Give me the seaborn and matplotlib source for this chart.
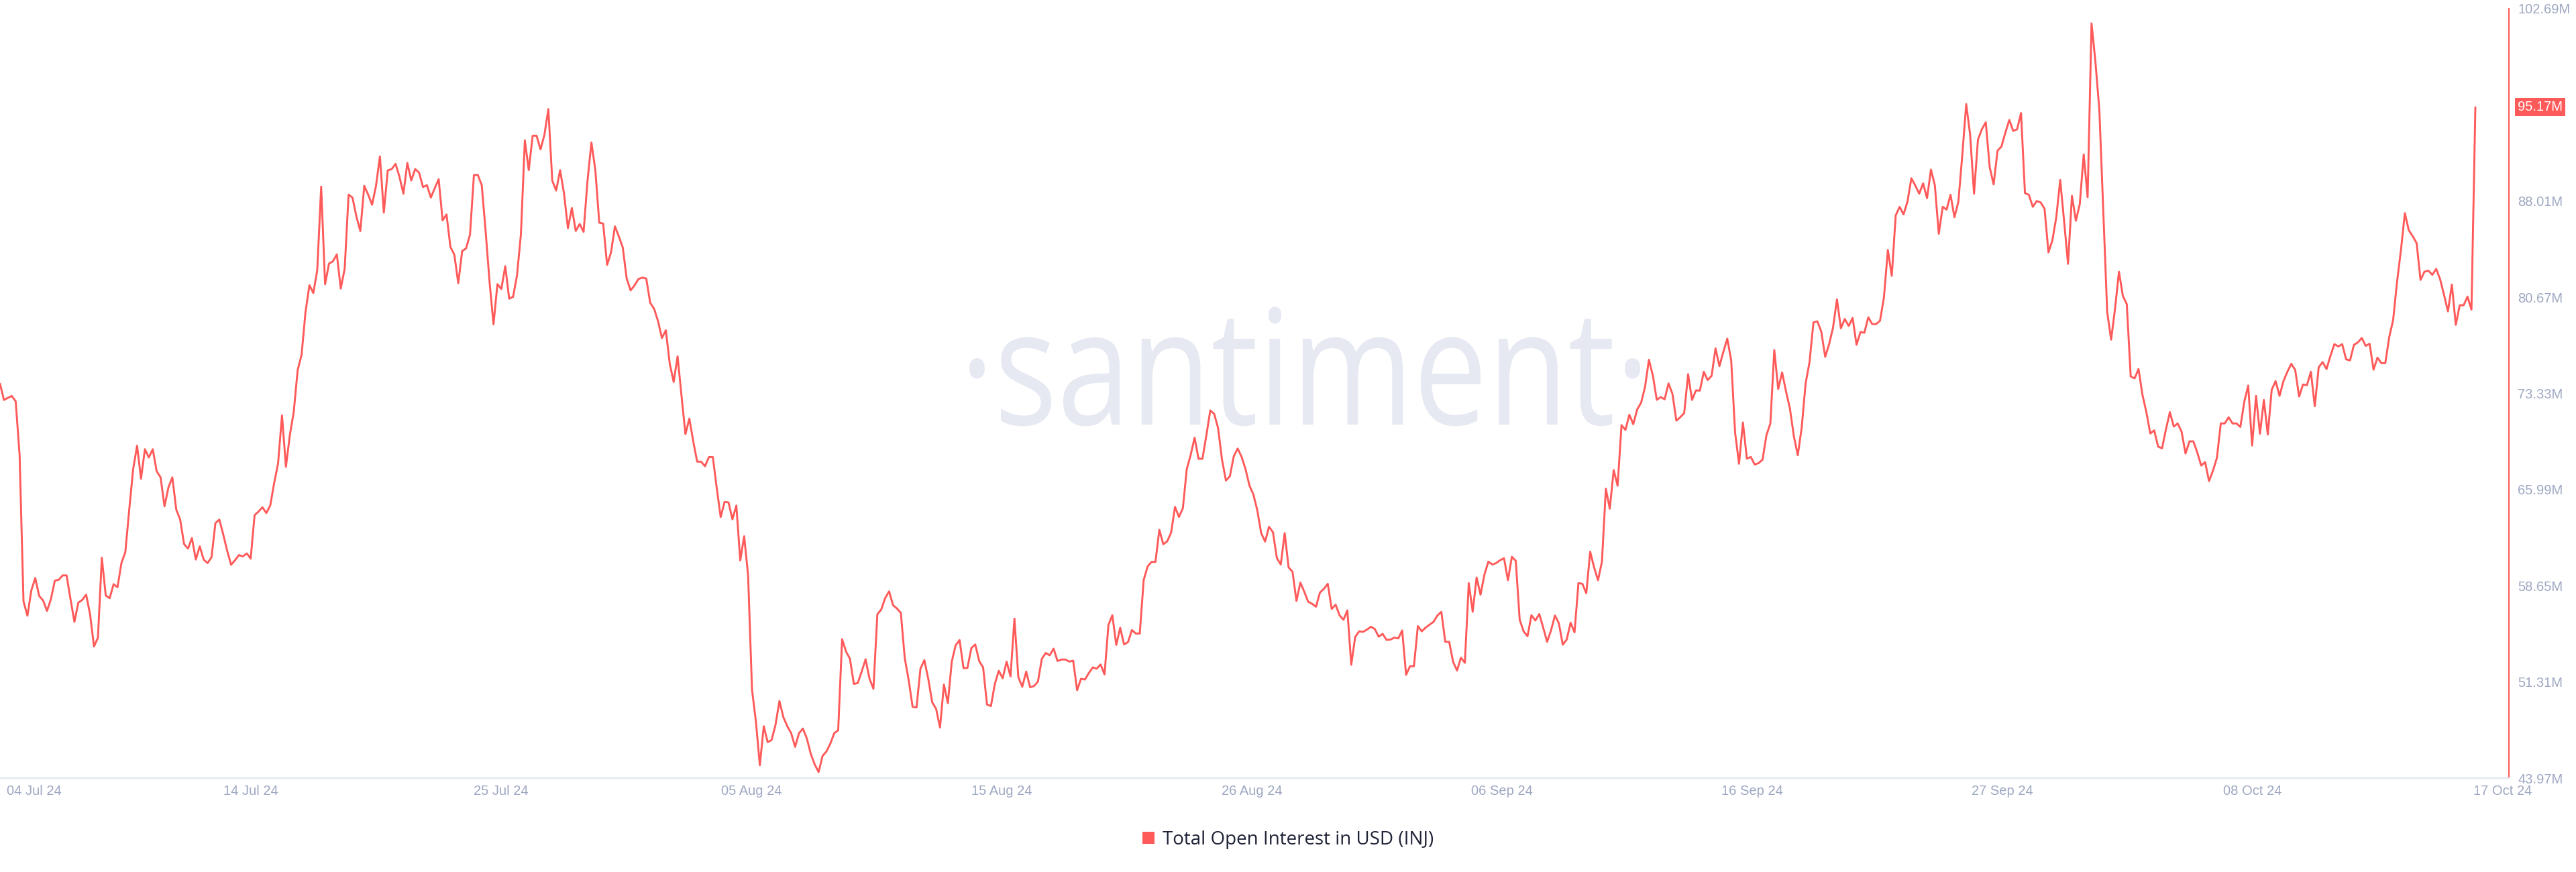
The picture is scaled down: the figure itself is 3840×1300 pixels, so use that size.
import numpy as np
import pandas as pd
import matplotlib
matplotlib.use("Agg")
import matplotlib.pyplot as plt
import matplotlib.transforms as mtransforms
from matplotlib.patches import Patch, PathPatch
from matplotlib.textpath import TextPath
from matplotlib.font_manager import FontProperties
import seaborn as sns

# Total open interest in USD (INJ), 4h samples, millions
oi_jul = [
    74.07, 72.83, 72.99, 73.13, 72.73, 68.67, 57.46, 56.36, 58.30, 59.24,
    57.87, 57.53, 56.73, 57.63, 59.04, 59.11, 59.44, 59.44, 57.63, 55.89,
    57.36, 57.57, 57.97, 56.46, 54.01, 54.68, 60.79, 57.90, 57.70, 58.77,
    58.54, 60.38, 61.22, 64.47, 67.56, 69.34, 66.82, 69.07, 68.44, 69.07,
    67.39, 66.92, 64.71, 66.15, 66.92, 64.47, 63.70, 61.83, 61.49, 62.29,
    60.65, 61.66, 60.65, 60.38, 60.82, 63.43, 63.70, 62.56, 61.32, 60.25,
    60.59, 60.99, 60.89, 61.12, 60.72, 64.04, 64.31, 64.64, 64.20, 64.78,
    66.49, 68.00, 71.65, 67.73, 70.14, 71.92, 75.11, 76.28, 79.54, 81.59,
    80.99, 82.74, 89.11, 81.66, 83.24, 83.41, 83.94, 81.33, 82.84, 88.50,
    88.27, 86.82, 85.72, 89.17, 88.50, 87.73, 89.17, 91.42, 87.13, 90.35,
    90.45, 90.85, 89.85, 88.57, 90.92, 89.58, 90.45, 90.18,
]
oi_late_jul = [
    89.08, 89.22, 88.28, 88.99, 89.68, 86.53, 86.99, 84.51, 83.92, 81.74,
    84.19, 84.40, 85.45, 90.00, 90.00, 89.22, 85.66, 81.81, 78.60, 81.67,
    81.30, 83.04, 80.56, 80.70, 82.34, 85.48, 92.65, 90.37, 93.00, 93.00,
    91.95, 93.07, 95.03, 89.57, 88.81, 90.37, 88.60, 85.94, 87.48, 85.73,
    86.26, 85.66, 89.57, 92.48, 90.37, 86.36, 86.29, 83.14, 84.08, 86.08,
    85.31, 84.47, 82.10, 81.19, 81.57, 82.06, 82.17, 82.10, 80.25, 79.79,
    78.85, 77.56, 78.15, 75.59, 74.20, 76.16, 73.15, 70.22, 71.41, 69.66,
    68.12, 68.12, 67.77, 68.47, 68.47, 66.09, 63.89, 65.05, 65.01, 63.72,
    64.77, 60.58, 62.43, 59.45, 50.72, 48.27, 44.95, 47.93, 46.71, 46.88,
    48.03, 49.85, 48.62, 47.93, 47.40, 46.35, 47.40, 47.75, 46.99, 45.82,
    45.02, 44.43, 45.66, 46.00, 46.60, 47.40,
]
oi_aug = [
    47.62, 54.57, 53.63, 53.08, 51.16, 51.22, 52.10, 53.04, 51.55, 50.79,
    56.47, 56.84, 57.71, 58.22, 57.17, 56.91, 56.58, 53.12, 51.44, 49.41,
    49.36, 52.32, 52.97, 51.55, 49.76, 49.26, 47.83, 51.11, 49.69, 52.86,
    54.11, 54.50, 52.36, 52.38, 53.89, 54.17, 52.91, 52.42, 49.58, 49.47,
    51.16, 52.16, 51.59, 52.86, 51.73, 56.14, 51.66, 50.94, 52.10, 50.90,
    51.00, 51.33, 53.08, 53.52, 53.34, 53.85, 52.91, 53.02, 53.02, 52.86,
    52.93, 50.68, 51.55, 51.49, 51.99, 52.42, 52.32, 52.64, 51.88, 55.66,
    56.40, 54.13, 55.44, 54.17, 54.35, 55.27, 55.00, 55.00, 59.09, 60.12,
    60.47, 60.47, 62.92, 61.82, 62.04, 62.70, 64.67, 63.90, 64.56, 67.55,
    68.64, 69.95, 68.34, 68.34, 70.13, 72.03, 71.77, 70.68, 68.27, 66.68,
    67.00, 68.53, 69.12, 68.49, 67.55, 66.30,
]
oi_sep = [
    65.62, 64.42, 62.67, 62.02, 63.15, 62.74, 60.77, 60.27, 62.67, 60.05,
    59.72, 57.49, 58.89, 58.19, 57.43, 57.27, 57.05, 58.13, 58.41, 58.80,
    56.88, 57.21, 56.40, 56.05, 56.77, 52.62, 54.74, 55.17, 55.13, 55.30,
    55.52, 55.35, 54.76, 54.98, 54.52, 54.54, 54.69, 54.63, 55.24, 51.85,
    52.51, 52.51, 55.57, 55.17, 55.46, 55.68, 55.90, 56.38, 56.66, 54.37,
    54.37, 52.84, 52.18, 53.16, 52.77, 58.85, 56.66, 59.28, 57.97, 59.50,
    60.49, 60.27, 60.38, 60.60, 60.75, 59.07, 60.86, 60.55, 56.05, 55.17,
    54.80, 56.40, 56.00, 56.49, 55.46, 54.37, 55.24, 56.38, 55.79, 54.15,
    54.54, 55.83, 55.09, 58.85, 58.80, 58.08, 61.25, 60.05, 59.07, 60.49,
    66.06, 64.53, 67.48, 66.28, 70.91, 70.54, 71.70, 70.98, 72.11, 72.62,
    73.82, 75.90, 74.69, 72.84, 73.05, 72.88,
]
oi_late_sep = [
    74.09, 73.30, 71.25, 71.51, 71.83, 74.80, 72.83, 73.56, 73.54, 74.98,
    74.35, 74.67, 76.77, 75.41, 76.51, 77.51, 75.85, 70.33, 67.96, 71.11,
    68.35, 68.48, 67.90, 68.01, 68.27, 70.14, 71.04, 76.64, 73.67, 74.93,
    73.48, 72.17, 70.06, 68.61, 70.72, 74.09, 75.72, 78.75, 78.83, 78.04,
    76.12, 77.09, 78.35, 80.51, 78.30, 79.01, 78.48, 79.09, 77.04, 78.01,
    77.96, 79.14, 78.62, 78.62, 78.88, 80.67, 84.28, 82.30, 86.91, 87.57,
    86.99, 87.96, 89.75, 89.20, 88.57, 89.36, 88.23, 90.41, 89.20, 85.51,
    87.57, 87.36, 88.49, 86.78, 87.96, 91.51, 95.41, 93.09, 88.57, 92.70,
    93.49, 94.02, 90.59, 89.28, 91.86, 92.17, 93.23, 94.20, 93.36, 93.49,
    94.73, 88.62, 88.49, 87.57, 88.01, 87.91, 87.43, 84.09, 85.01, 86.78,
    89.62, 86.46, 83.22, 88.41, 86.51, 87.78,
]
oi_oct = [
    91.57, 88.30, 101.57, 98.62, 94.94, 87.17, 79.54, 77.43, 79.80, 82.62,
    80.77, 80.14, 74.62, 74.48, 75.19, 73.22, 71.90, 70.27, 70.51, 69.27,
    69.14, 70.59, 71.90, 70.80, 71.04, 70.40, 68.74, 69.67, 69.67, 68.82,
    67.82, 68.09, 66.64, 67.43, 68.40, 71.04, 71.04, 71.51, 71.04, 71.04,
    70.77, 72.69, 73.93, 69.35, 73.14, 70.25, 72.83, 70.19, 73.61, 74.27,
    73.14, 74.27, 74.98, 75.59, 75.12, 73.09, 74.01, 73.96, 74.98, 72.35,
    75.33, 75.72, 75.19, 76.20, 77.09, 76.91, 77.09, 75.93, 75.85, 77.04,
    77.22, 77.56, 76.96, 77.12, 75.14, 76.06, 75.64, 75.64, 77.62, 78.93,
    81.83, 84.28, 87.09, 85.78, 85.33, 84.80, 81.99, 82.62, 82.70, 82.38,
    82.83, 82.04, 80.85, 79.59, 81.64, 78.56, 80.06, 80.06, 80.72, 79.72,
    95.17,
]

x_labels = ['04 Jul 24', '14 Jul 24', '25 Jul 24', '05 Aug 24', '15 Aug 24',
            '26 Aug 24', '06 Sep 24', '16 Sep 24', '27 Sep 24', '08 Oct 24',
            '17 Oct 24']
y_ticks = [43.97, 51.31, 58.65, 65.99, 73.33, 80.67, 88.01, 102.69]
y_labels = ['43.97M', '51.31M', '58.65M', '65.99M', '73.33M', '80.67M',
            '88.01M', '102.69M']
last_label = '95.17M'
series_name = 'Total Open Interest in USD (INJ)'

RED = '#ff5a5a'
TICK_COLOR = '#9ea8c2'
WATERMARK = '#e6e9f2'

values = oi_jul + oi_late_jul + oi_aug + oi_sep + oi_late_sep + oi_oct
dates = pd.date_range(end='2024-10-17 00:00', periods=len(values), freq='4h')
df = pd.DataFrame({'date': dates, 'oi': values})

sns.set_style('white')
plt.rcParams['font.family'] = ['Liberation Sans', 'DejaVu Sans']

fig = plt.figure(figsize=(38.4, 13), dpi=100)
ax = fig.add_axes([0, 140 / 1300, 3740 / 3840, 1147 / 1300])
ax.patch.set_alpha(0)

# watermark, squeezed to the box it has in the original
wm_font = FontProperties(family='Open Sans')
wm_path = TextPath((0, 0), '\u00b7santiment\u00b7', size=100, prop=wm_font)
xh = TextPath((0, 0), 'x', size=100, prop=wm_font).get_extents().height
bb = wm_path.get_extents()
wm_tr = (mtransforms.Affine2D().translate(-bb.x0, 0)
         .scale(1000 / bb.width, 128 / xh).translate(1445, 1300 - 633))
fig.add_artist(PathPatch(wm_path, transform=wm_tr, facecolor=WATERMARK,
                         edgecolor='none', zorder=-1))

sns.lineplot(data=df, x='date', y='oi', color=RED, linewidth=2.1, ax=ax,
             legend=False, zorder=3)

x0 = dates[0]
span = (dates[-1] - dates[0]) * (3740 / 3690)
ax.set_xlim(x0, x0 + span)
ax.set_ylim(y_ticks[0], y_ticks[-1])

tick_pos = [x0 + span * ((1 + 373 * i) / 3740) for i in range(len(x_labels))]
ax.set_xticks(tick_pos)
ax.set_xticklabels(x_labels)
ax.yaxis.tick_right()
ax.set_yticks(y_ticks)
ax.set_yticklabels(y_labels)
ax.set_xlabel('')
ax.set_ylabel('')
ax.tick_params(axis='both', length=0, labelsize=14.5, labelcolor=TICK_COLOR)
ax.tick_params(axis='x', pad=7)
ax.tick_params(axis='y', pad=9.5)
ax.grid(False)

for side in ['left', 'top']:
    ax.spines[side].set_visible(False)
ax.spines['right'].set_color(RED)
ax.spines['right'].set_linewidth(1.5)
ax.spines['bottom'].set_color('#e2e6f0')
ax.spines['bottom'].set_linewidth(1.6)

# first date label sits inside the left edge
first = ax.get_xticklabels()[0]
first.set_horizontalalignment('left')
first.set_transform(first.get_transform() +
                    mtransforms.ScaledTranslation(0.09, 0, fig.dpi_scale_trans))

# last value badge
ax.annotate(last_label, xy=(1, values[-1]), xycoords=('axes fraction', 'data'),
            xytext=(9.5, 0), textcoords='offset points', ha='left', va='center',
            fontsize=14.5, color='white',
            bbox=dict(boxstyle='square,pad=0.2', facecolor=RED, edgecolor='none'))

fig.legend(handles=[Patch(facecolor=RED, edgecolor='none')], labels=[series_name],
           loc='center', bbox_to_anchor=(0.5, 0.037), frameon=False,
           prop=FontProperties(family='Open Sans', size=20),
           labelcolor='#1e2235', handlelength=0.65, handleheight=0.65,
           handletextpad=0.45)

fig.savefig('out.png', dpi=100, facecolor='white')
